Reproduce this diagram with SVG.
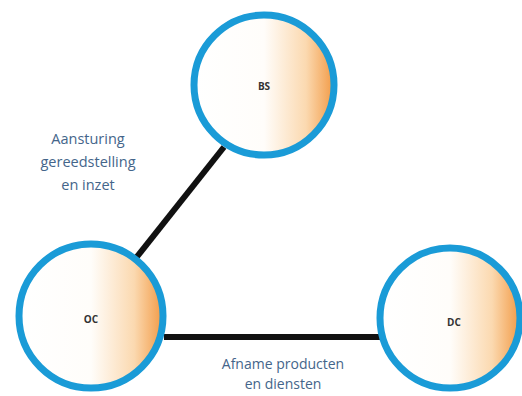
<svg xmlns="http://www.w3.org/2000/svg" width="522" height="396" viewBox="0 0 522 396">
<style>
.node{stroke:#1a9bd7;stroke-width:7;fill:url(#g)}
.lbl{font-family:"Open Sans","Liberation Sans",sans-serif;font-size:10px;font-weight:bold;fill:#333;text-anchor:middle}
.cap{font-family:"Open Sans","Liberation Sans",sans-serif;fill:#44658a;text-anchor:middle}
.edge{stroke:#111;stroke-width:6;fill:none}
</style>
<defs>
<linearGradient id="g" x1="0" y1="0" x2="1" y2="0">
<stop offset="0" stop-color="#ffffff"/>
<stop offset="0.5" stop-color="#fffdfa"/>
<stop offset="0.8" stop-color="#fbd9b0"/>
<stop offset="1" stop-color="#f29a45"/>
</linearGradient>
</defs>
<rect width="522" height="396" fill="#ffffff"/>
<g id="connectors">
<line class="edge" x1="224" y1="147" x2="136" y2="258"/>
<line class="edge" x1="164" y1="337" x2="380" y2="337"/>
</g>
<g id="BS">
<circle class="node" cx="264" cy="85" r="70"/>
<text class="lbl" x="264" y="90">BS</text>
</g>
<g id="OC">
<circle class="node" cx="91" cy="316" r="72"/>
<text class="lbl" x="91" y="323">OC</text>
</g>
<g id="DC">
<circle class="node" cx="450" cy="318" r="70"/>
<text class="lbl" x="454" y="326">DC</text>
</g>
<g id="labels">
<text class="cap" font-size="14.5" x="88" y="144">Aansturing</text>
<text class="cap" font-size="14.5" x="88" y="167">gereedstelling</text>
<text class="cap" font-size="14.5" x="88" y="190">en inzet</text>
<text class="cap" font-size="14" x="283" y="369">Afname producten</text>
<text class="cap" font-size="14" x="283" y="389">en diensten</text>
</g>
</svg>
